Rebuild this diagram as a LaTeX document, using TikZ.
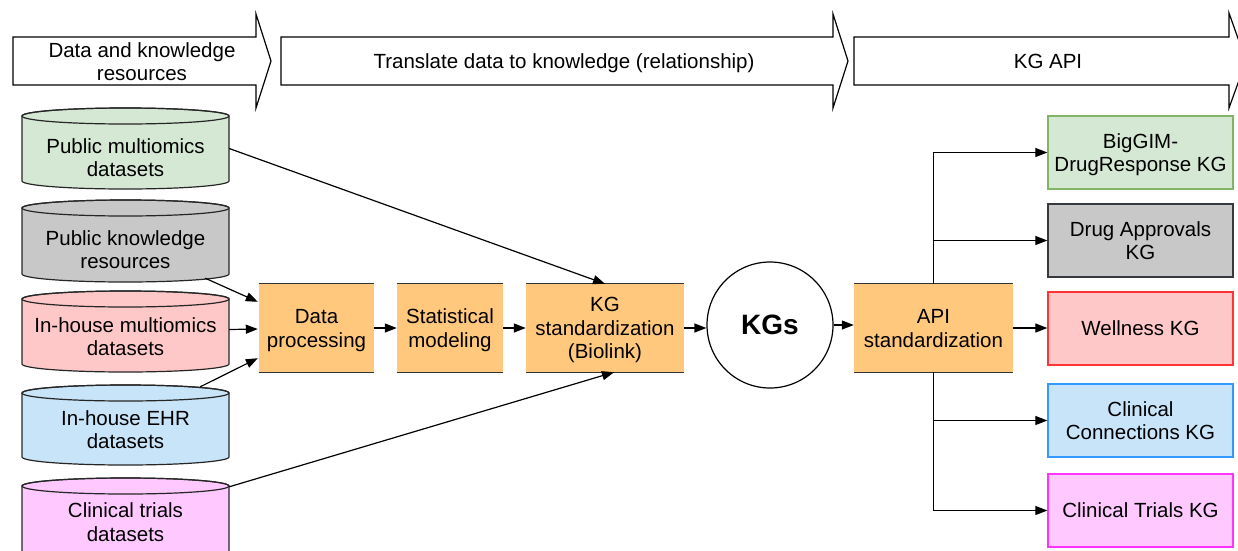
\documentclass[tikz,border=0pt]{standalone}
\usepackage{fontspec}
\setmainfont{Liberation Sans}
\usetikzlibrary{arrows.meta,calc}

\definecolor{gfill}{HTML}{D5E8D4}
\definecolor{gline}{HTML}{82B366}
\definecolor{kfill}{HTML}{C8C8C8}
\definecolor{kline}{HTML}{36393D}
\definecolor{rfill}{HTML}{FFC8C8}
\definecolor{rline}{HTML}{FF3333}
\definecolor{bfill}{HTML}{C7E4F8}
\definecolor{bline}{HTML}{3399FF}
\definecolor{mfill}{HTML}{FFC8FF}
\definecolor{mline}{HTML}{FF33FF}
\definecolor{ofill}{HTML}{FFC87C}
\definecolor{oline}{HTML}{333333}

% struts that centre the capitals of a text block on its node:
% \sttop opens the first line, \stbot closes the last line
\newcommand{\sttop}{\rule{0pt}{20pt}}
\newcommand{\stbot}{\rule[-5.4pt]{0pt}{5.4pt}}

% database cylinder: name, left, top, right, bottom, fill, text centre, text
\newcommand{\dbcylinder}[8]{%
  \pgfmathsetmacro{\cx}{(#2+#4)/2}%
  \pgfmathsetmacro{\rx}{(#4-#2)/2}%
  \filldraw[cyl,fill=#6] (#2,#3+8) -- (#2,#5-8)
    arc[start angle=180,end angle=0,x radius=\rx,y radius=8]
    -- (#4,#3+8)
    arc[start angle=0,end angle=-180,x radius=\rx,y radius=8] -- cycle;
  \draw[cyl] (\cx,#3+8) ellipse[x radius=\rx,y radius=8];
  \node[minimum width=#4-#2,minimum height=#5-#3,inner sep=0] (#1) at (\cx,{(#3+#5)/2}) {};
  \node[txt] (#1t) at (\cx,#7) {#8};
}

\begin{document}
\begin{tikzpicture}[x=1pt,y=-1pt,
  txt/.style={font=\fontsize{20.5}{23.5}\selectfont,align=center,inner sep=0pt},
  cyl/.style={draw=black!85,line width=1.2pt},
  band/.style={draw=black,line width=1.2pt,fill=white,line join=miter},
  proc/.style={txt,fill=ofill,minimum height=88,inner sep=0pt},
  kgbox/.style={txt,draw=#1,line width=1.3pt,minimum width=185,minimum height=73},
  conn/.style={draw=black,line width=1.2pt,-{Triangle[length=12pt,width=9pt]}}
]
\useasboundingbox (0,0) rectangle (1238,550);
\clip (0,0) rectangle (1238,550);
\fill[white] (0,0) rectangle (1238,550);

% stage bands along the top
\draw[band] (13,37) -- (256,37) -- (256,14) -- (271,61) -- (256,108) -- (256,85) -- (13,85) -- cycle;
\node[txt] (s1) at (142,61.5) {\sttop Data and knowledge\\resources\stbot};
\draw[band] (281,37) -- (833,37) -- (833,14) -- (848,61) -- (833,108) -- (833,85) -- (281,85) -- cycle;
\node[txt] (s2) at (564,61.5) {\sttop Translate data to knowledge (relationship)\stbot};
\draw[band] (854,37) -- (1229,37) -- (1229,13) -- (1246,61) -- (1229,108) -- (1229,85) -- (854,85) -- cycle;
\node[txt] (s3) at (1048,61.5) {\sttop KG API\stbot};

% data sources
\dbcylinder{c1}{22}{108}{229}{189}{gfill}{157.5}{\sttop Public multiomics\\datasets\stbot}
\dbcylinder{c2}{22}{200}{229}{282}{kfill}{249.5}{\sttop Public knowledge\\resources\stbot}
\dbcylinder{c3}{22}{291}{229}{372}{rfill}{336.5}{\sttop In-house multiomics\\datasets\stbot}
\dbcylinder{c4}{22}{385}{229}{465}{bfill}{429.5}{\sttop In-house EHR\\datasets\stbot}
\dbcylinder{c5}{22}{478}{229}{560}{mfill}{522}{\sttop Clinical trials\\datasets\stbot}

% processing steps
\node[proc,minimum width=115] (dp) at (316.5,328) {\sttop Data\\processing\stbot};
\node[proc,minimum width=106] (sm) at (450,328) {\sttop Statistical\\modeling\stbot};
\node[proc,minimum width=158] (ks) at (605,328) {\sttop KG\\standardization\\(Biolink)\stbot};
\node[draw=black,line width=1.2pt,fill=white,circle,minimum size=126,inner sep=0,
      font=\fontsize{28}{32}\selectfont\bfseries] (kgs) at (770,325) {KGs};
\node[proc,minimum width=159] (api) at (933.5,328) {\sttop API\\standardization\stbot};
\foreach \n in {dp,sm,ks,api}{
  \draw[oline,line width=1.2pt] (\n.north west) -- (\n.north east)
                                (\n.south west) -- (\n.south east);
}

% published knowledge graphs
\node[kgbox=gline,fill=gfill] (bg) at (1140.5,152.5) {\sttop BigGIM-\\DrugResponse KG\stbot};
\node[kgbox=kline,fill=kfill] (da) at (1140.5,240.5) {\sttop Drug Approvals\\KG\stbot};
\node[kgbox=rline,fill=rfill] (wk) at (1140.5,328.5) {\sttop Wellness KG\stbot};
\node[kgbox=bline,fill=bfill] (cc) at (1140.5,420.5) {\sttop Clinical\\Connections KG\stbot};
\node[kgbox=mline,fill=mfill] (ct) at (1140.5,510.5) {\sttop Clinical Trials KG\stbot};

% connectors
\draw[conn] (c1.east) -- (ks.north);
\draw[conn] ($(c2.south east)+(-24,-4)$) -- ($(dp.north west)+(-1,18)$);
\draw[conn] ($(c3.east)+(0,-2)$) -- ($(dp.west)+(-1,1)$);
\draw[conn] ($(c4.north east)+(-29,2)$) -- ($(dp.south west)+(-1,-14)$);
\draw[conn] ($(c5.north east)+(0,9)$) -- ($(ks.south)+(9,0)$);
\draw[conn] (dp.east) -- (sm.west);
\draw[conn] (sm.east) -- (ks.west);
\draw[conn] (ks.east) -- (ks.east -| kgs.west);
\draw[conn] (kgs.east) -- (kgs.east -| api.west);
\draw[conn] (api.east) -- (api.east -| wk.west);
\draw[conn] (api.north) |- (bg.west);
\draw[conn] (api.north) |- (da.west);
\draw[conn] (api.south) |- (cc.west);
\draw[conn] (api.south) |- (ct.west);
\end{tikzpicture}
\end{document}
